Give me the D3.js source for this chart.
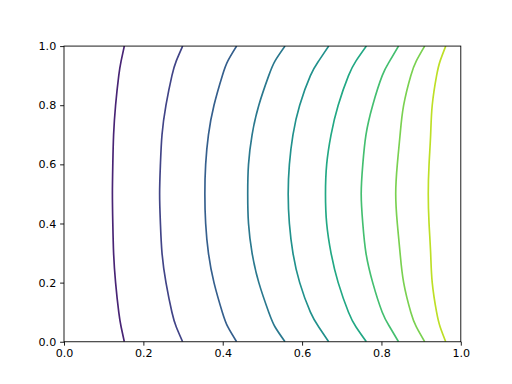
<!DOCTYPE html>
<html>
<head>
<meta charset="utf-8">
<script src="https://cdn.jsdelivr.net/npm/d3@7"></script>
<style>
  html, body { margin: 0; padding: 0; background: #fff; }
  svg { display: block; }
  .tick text { font-family: 'DejaVu Sans', sans-serif; font-size: 11.1px; fill: #000; }
</style>
</head>
<body>
<script>
// contour level index (colour position in viridis)
const levels = [0.1, 0.2, 0.3, 0.4, 0.5, 0.6, 0.7, 0.8, 0.9]

const ys = [0, 0.05, 0.1, 0.2, 0.3, 0.4, 0.5, 0.6, 0.7, 0.8, 0.9, 0.95, 1]

// x of each contour at the ys above
const contourX = [
    [0.152, 0.144, 0.138, 0.130, 0.125, 0.123, 0.122, 0.123, 0.125, 0.130, 0.138, 0.144, 0.152],
    [0.299, 0.283, 0.272, 0.257, 0.247, 0.243, 0.241, 0.243, 0.247, 0.257, 0.272, 0.283, 0.299],
    [0.435, 0.413, 0.399, 0.378, 0.364, 0.357, 0.355, 0.357, 0.364, 0.378, 0.399, 0.413, 0.435],
    [0.557, 0.532, 0.516, 0.491, 0.474, 0.465, 0.463, 0.465, 0.474, 0.491, 0.516, 0.532, 0.557],
    [0.667, 0.642, 0.621, 0.594, 0.577, 0.568, 0.565, 0.568, 0.577, 0.594, 0.621, 0.642, 0.667],
    [0.762, 0.736, 0.717, 0.691, 0.673, 0.662, 0.659, 0.662, 0.673, 0.691, 0.717, 0.736, 0.762],
    [0.843, 0.821, 0.802, 0.778, 0.761, 0.753, 0.749, 0.753, 0.761, 0.778, 0.802, 0.821, 0.843],
    [0.909, 0.888, 0.874, 0.856, 0.847, 0.840, 0.836, 0.840, 0.847, 0.856, 0.874, 0.888, 0.909],
    [0.962, 0.948, 0.939, 0.928, 0.924, 0.920, 0.918, 0.920, 0.924, 0.928, 0.939, 0.948, 0.962]
]

const xTicks = [0, 0.2, 0.4, 0.6, 0.8, 1.0]
const yTicks = [0, 0.2, 0.4, 0.6, 0.8, 1.0]

const width = 512
const height = 384
const margin = { left: 64, right: 51.2, top: 46.08, bottom: 42.24 }

const svg = d3.select('body').append('svg')
    .attr('width', width)
    .attr('height', height)

const x = d3.scaleLinear().domain([0, 1]).range([margin.left, width - margin.right])
const y = d3.scaleLinear().domain([0, 1]).range([height - margin.bottom, margin.top])

svg.append('defs').append('clipPath')
    .attr('id', 'clip')
    .append('rect')
    .attr('x', x(0))
    .attr('y', y(1))
    .attr('width', x(1) - x(0))
    .attr('height', y(0) - y(1))

const line = d3.line()
    .x(d => x(d[0]))
    .y(d => y(d[1]))
    .curve(d3.curveNatural)

svg.append('g')
    .attr('clip-path', 'url(#clip)')
    .selectAll('path')
    .data(contourX)
    .enter().append('path')
    .attr('d', xs => line(xs.map((v, i) => [v, ys[i]])))
    .attr('fill', 'none')
    .attr('stroke', (d, i) => d3.interpolateViridis(levels[i]))
    .attr('stroke-width', 1.67)

const fmt = d3.format('.1f')

const gx = svg.append('g')
    .attr('transform', `translate(0,${y(0)})`)
    .call(d3.axisBottom(x).tickValues(xTicks).tickFormat(fmt).tickSizeOuter(0).tickSize(3.9).tickPadding(3.9))
const gy = svg.append('g')
    .attr('transform', `translate(${x(0)},0)`)
    .call(d3.axisLeft(y).tickValues(yTicks).tickFormat(fmt).tickSizeOuter(0).tickSize(3.9).tickPadding(3.9))

gx.select('.domain').remove()
gy.select('.domain').remove()
svg.selectAll('.tick line').attr('stroke', '#000').attr('stroke-width', 0.89)

// axes frame
svg.append('rect')
    .attr('x', x(0))
    .attr('y', y(1))
    .attr('width', x(1) - x(0))
    .attr('height', y(0) - y(1))
    .attr('fill', 'none')
    .attr('stroke', '#000')
    .attr('stroke-width', 0.89)
</script>
</body>
</html>
